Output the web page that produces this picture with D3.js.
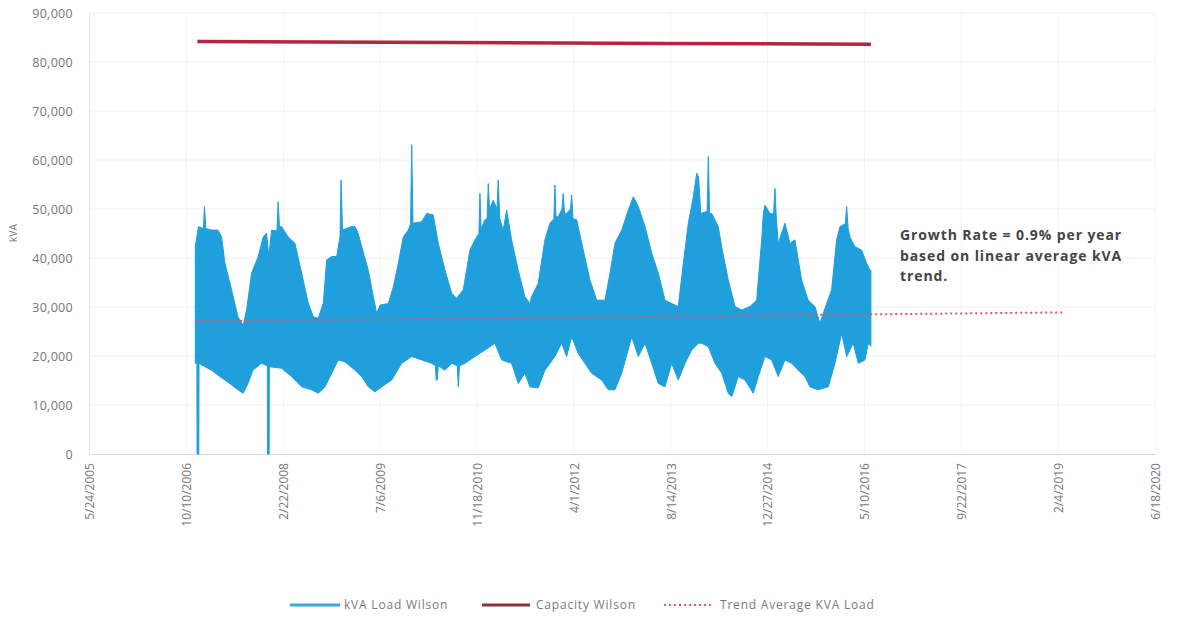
<!DOCTYPE html>
<html>
<head>
<meta charset="utf-8">
<script src="https://cdn.jsdelivr.net/npm/d3@7"></script>
<style>
    body { margin: 0; background: #fff; }
    .tick text { font-family: "Open Sans", sans-serif; fill: #767676; }
</style>
</head>
<body>
<div id="chart"></div>
<script>
// x ticks, as printed on the scanned chart
var tickDates = ['2005-05-24', '2006-10-10', '2008-02-22', '2009-07-06', '2010-11-18', '2012-04-01',
    '2013-08-14', '2014-12-27', '2016-05-10', '2017-09-22', '2019-02-04', '2020-06-18'];
var tickLabels = ['5/24/2005', '10/10/2006', '2/22/2008', '7/6/2009', '11/18/2010', '4/1/2012',
    '8/14/2013', '12/27/2014', '5/10/2016', '9/22/2017', '2/4/2019', '6/18/2020'];
var yTicks = [0, 10000, 20000, 30000, 40000, 50000, 60000, 70000, 80000, 90000];

// kVA load, upper edge of the band (decimal year, kVA)
var loadTopYears = [2006.895, 2006.940, 2007.010, 2007.025, 2007.045, 2007.126, 2007.215, 2007.268, 2007.314, 2007.409,
    2007.498, 2007.573, 2007.621, 2007.692, 2007.785, 2007.856, 2007.904, 2007.935, 2007.975, 2008.050,
    2008.068, 2008.085, 2008.116, 2008.209, 2008.304, 2008.399, 2008.492, 2008.563, 2008.633, 2008.704,
    2008.752, 2008.823, 2008.893, 2008.940, 2008.955, 2008.975, 2009.096, 2009.152, 2009.195, 2009.247,
    2009.340, 2009.411, 2009.459, 2009.506, 2009.623, 2009.694, 2009.764, 2009.835, 2009.906, 2009.938,
    2009.954, 2009.972, 2010.095, 2010.166, 2010.259, 2010.330, 2010.425, 2010.519, 2010.590, 2010.683,
    2010.778, 2010.849, 2010.905, 2010.919, 2010.935, 2010.990, 2011.020, 2011.037, 2011.055, 2011.107,
    2011.160, 2011.178, 2011.200, 2011.249, 2011.297, 2011.367, 2011.461, 2011.556, 2011.626, 2011.650,
    2011.743, 2011.838, 2011.909, 2011.965, 2011.980, 2011.995, 2012.026, 2012.080, 2012.097, 2012.115,
    2012.145, 2012.200, 2012.216, 2012.235, 2012.286, 2012.380, 2012.474, 2012.569, 2012.686, 2012.757,
    2012.827, 2012.922, 2013.016, 2013.086, 2013.157, 2013.252, 2013.346, 2013.440, 2013.534, 2013.629,
    2013.722, 2013.793, 2013.864, 2013.935, 2013.983, 2014.010, 2014.040, 2014.130, 2014.147, 2014.165,
    2014.195, 2014.288, 2014.336, 2014.429, 2014.524, 2014.619, 2014.736, 2014.831, 2014.902, 2014.925,
    2014.948, 2015.019, 2015.070, 2015.090, 2015.110, 2015.136, 2015.231, 2015.302, 2015.372, 2015.467,
    2015.560, 2015.655, 2015.726, 2015.821, 2015.891, 2015.962, 2016.009, 2016.085, 2016.104, 2016.125,
    2016.150, 2016.220, 2016.315, 2016.386, 2016.432, 2016.446];
var loadTopKva = [42300, 46400, 46000, 50500, 46000, 45700, 45700, 44300, 39000, 33500,
    28000, 26300, 29400, 36900, 40300, 44300, 45100, 40300, 45700, 45500,
    51500, 46400, 46400, 44300, 43000, 36900, 30800, 28000, 27700, 30800,
    39600, 40300, 40300, 44300, 55900, 45700, 46400, 46400, 45100, 42300,
    37500, 32100, 28700, 30400, 30700, 34100, 38900, 44300, 45700, 47000,
    63100, 47100, 47400, 49100, 48800, 43000, 37500, 32800, 31800, 33500,
    41600, 43700, 45000, 53200, 46000, 47800, 48000, 55200, 50000, 51800,
    50000, 55900, 48000, 45700, 49800, 43700, 37500, 32100, 30700, 32100,
    34800, 43700, 47100, 48000, 54900, 48400, 48400, 50000, 53200, 49000,
    49100, 50000, 52900, 48000, 47800, 41600, 35500, 31400, 31400, 36900,
    43000, 45700, 49800, 52500, 50500, 46400, 41000, 36900, 31400, 30700,
    30100, 38900, 47100, 52500, 57300, 56500, 49100, 49500, 60700, 49100,
    49100, 46400, 42300, 35500, 30100, 29400, 30100, 31400, 43700, 49000,
    50800, 49100, 49000, 54200, 48000, 43000, 47100, 43000, 43700, 35500,
    31400, 30100, 26700, 30700, 33500, 43700, 46400, 47000, 50500, 46000,
    44300, 42300, 41600, 38900, 37500, 37500];

// kVA load, lower edge of the band (decimal year, kVA)
var loadLowYears = [2006.895, 2006.918, 2006.920, 2006.945, 2006.948, 2007.032, 2007.126, 2007.215, 2007.314, 2007.409,
    2007.498, 2007.573, 2007.640, 2007.710, 2007.830, 2007.915, 2007.917, 2007.940, 2007.943, 2008.116,
    2008.257, 2008.399, 2008.540, 2008.633, 2008.728, 2008.823, 2008.916, 2009.011, 2009.152, 2009.247,
    2009.340, 2009.435, 2009.530, 2009.671, 2009.812, 2009.954, 2010.095, 2010.236, 2010.290, 2010.300,
    2010.315, 2010.330, 2010.425, 2010.519, 2010.600, 2010.613, 2010.630, 2010.707, 2010.849, 2010.990,
    2011.131, 2011.226, 2011.367, 2011.461, 2011.556, 2011.626, 2011.743, 2011.838, 2011.980, 2012.074,
    2012.145, 2012.216, 2012.309, 2012.403, 2012.498, 2012.639, 2012.733, 2012.827, 2012.922, 2013.064,
    2013.157, 2013.252, 2013.346, 2013.440, 2013.534, 2013.629, 2013.722, 2013.817, 2013.912, 2014.006,
    2014.054, 2014.147, 2014.242, 2014.336, 2014.429, 2014.478, 2014.571, 2014.666, 2014.783, 2014.854,
    2014.948, 2015.043, 2015.136, 2015.231, 2015.326, 2015.419, 2015.514, 2015.584, 2015.702, 2015.844,
    2015.938, 2016.033, 2016.104, 2016.196, 2016.268, 2016.362, 2016.409, 2016.446];
var loadLowKva = [18500, 18500, 0, 0, 18500, 17800, 17100, 16100, 15100, 14100,
    13100, 12400, 14400, 17100, 18500, 18000, 0, 0, 17800, 17500,
    15800, 13700, 13100, 12400, 13700, 16500, 19200, 18800, 17100, 15800,
    13700, 12700, 13700, 15100, 18500, 19900, 19200, 18500, 18000, 15100,
    15100, 18000, 17100, 18500, 18000, 13700, 18000, 18500, 19900, 21200,
    22600, 19200, 18500, 14400, 16500, 13700, 13500, 17100, 19900, 22600,
    19900, 23900, 20500, 18500, 16500, 15100, 13100, 13100, 16500, 23900,
    19900, 22600, 18500, 14400, 13700, 18500, 15100, 18500, 21200, 22600,
    22600, 21900, 18500, 16500, 12400, 11700, 15800, 15100, 12400, 15800,
    19900, 19200, 15800, 19200, 18500, 17100, 15800, 13700, 13100, 13700,
    18500, 24600, 19900, 22600, 18500, 19200, 22600, 22000];

// capacity
var capYears = [2006.925, 2010.5, 2013.5, 2016.446];
var capKva = [84200, 84000, 83800, 83600];

// linear trend of average load
var trendYears = [2006.895, 2019.180];
var trendKva = [27100, 28900];

var noteLines = ['Growth Rate = 0.9% per year', 'based on linear average kVA', 'trend.'];

var legendNames = ['kVA Load Wilson', 'Capacity Wilson', 'Trend Average KVA Load'];


function yearToDate(y) {
    var yr = Math.floor(y);
    var s = Date.UTC(yr, 0, 1), e = Date.UTC(yr + 1, 0, 1);
    return new Date(s + (y - yr) * (e - s));
}

function pairs(years, vals) {
    var out = [];
    for (var i = 0; i < years.length; i ++) {
        out.push({d: yearToDate(years[i]), v: vals[i]});
    }
    return out;
}

var W = 1177, H = 617;
var parse = d3.utcParse('%Y-%m-%d');
var tickD = tickDates.map(parse);

var x = d3.scaleUtc()
    .domain([tickD[0], tickD[tickD.length - 1]])
    .range([89, 1155]);

var y = d3.scaleLinear()
    .domain([0, 90000])
    .range([454, 13]);

var svg = d3.select('#chart')
    .append('svg')
    .attr('width', W)
    .attr('height', H);

// faint gridlines
svg.append('g').selectAll('line.hg')
    .data(yTicks.slice(1))
    .enter().append('line')
    .attr('x1', 89).attr('x2', 1155)
    .attr('y1', function (d) { return y(d); })
    .attr('y2', function (d) { return y(d); })
    .attr('stroke', '#f1f1f1');

svg.append('g').selectAll('line.vg')
    .data(tickD.slice(1))
    .enter().append('line')
    .attr('x1', function (d) { return x(d); })
    .attr('x2', function (d) { return x(d); })
    .attr('y1', 13).attr('y2', 454)
    .attr('stroke', '#f3f3f3');

// y axis
var yAxis = d3.axisLeft(y)
    .tickValues(yTicks)
    .tickSize(0)
    .tickPadding(16)
    .tickFormat(d3.format(','));

var gy = svg.append('g')
    .attr('transform', 'translate(89,0)')
    .call(yAxis);
gy.select('.domain').attr('stroke', '#e2e2e2');
gy.selectAll('text')
    .attr('font-size', 12.5)
    .attr('letter-spacing', 0.3);

// x axis
var xAxis = d3.axisBottom(x)
    .tickValues(tickD)
    .tickSize(0)
    .tickFormat(function (d, i) { return tickLabels[i]; });

var gx = svg.append('g')
    .attr('transform', 'translate(0,454)')
    .call(xAxis);
gx.select('.domain').attr('stroke', '#d9d9d9');
gx.selectAll('text')
    .attr('font-size', 12)
    .attr('text-anchor', 'end')
    .attr('transform', 'rotate(-90)')
    .attr('x', -9)
    .attr('y', 0)
    .attr('dy', '0.35em');

// axis title
svg.append('text')
    .attr('transform', 'translate(17,233) rotate(-90)')
    .attr('text-anchor', 'middle')
    .attr('font-family', 'Open Sans, sans-serif')
    .attr('font-size', 10.5)
    .attr('fill', '#767676')
    .text('kVA');

// load band: upper edge forward, lower edge back
var topPts = pairs(loadTopYears, loadTopKva);
var lowPts = pairs(loadLowYears, loadLowKva).reverse();
var line = d3.line()
    .x(function (d) { return x(d.d); })
    .y(function (d) { return y(d.v); });

svg.append('path')
    .attr('d', line(topPts.concat(lowPts)) + 'Z')
    .attr('fill', '#1f9fdb')
    .attr('stroke', '#1f9fdb')
    .attr('stroke-width', 1);

// capacity
svg.append('path')
    .datum(pairs(capYears, capKva))
    .attr('d', line)
    .attr('fill', 'none')
    .attr('stroke', '#b3263d')
    .attr('stroke-width', 3.5);

// trend
svg.append('path')
    .datum(pairs(trendYears, trendKva))
    .attr('d', line)
    .attr('fill', 'none')
    .attr('stroke', '#e2566d')
    .attr('stroke-width', 2)
    .attr('stroke-dasharray', '2,3');

// note
svg.append('text')
    .attr('font-family', 'Open Sans, sans-serif')
    .attr('font-size', 14)
    .attr('font-weight', 'bold')
    .attr('letter-spacing', 0.9)
    .attr('fill', '#444')
    .selectAll('tspan')
    .data(noteLines)
    .enter().append('tspan')
    .attr('x', 900)
    .attr('y', function (d, i) { return 240 + i * 20.5; })
    .text(function (d) { return d; });

// legend
var legX = [290, 482, 664];
var leg = svg.append('g').attr('transform', 'translate(0,605)');
var legItems = leg.selectAll('g')
    .data(legendNames)
    .enter().append('g')
    .attr('transform', function (d, i) { return 'translate(' + legX[i] + ',0)'; });

legItems.append('line')
    .attr('x1', 0).attr('x2', function (d, i) { return i == 1 ? 48 : 50; })
    .attr('stroke', function (d, i) { return ['#3aa9de', '#86353f', '#e2566d'][i]; })
    .attr('stroke-width', function (d, i) { return i == 2 ? 2 : 3; })
    .attr('stroke-dasharray', function (d, i) { return i == 2 ? '2,3' : null; });

legItems.append('text')
    .attr('x', function (d, i) { return i == 2 ? 56 : 54; })
    .attr('dy', '0.35em')
    .attr('font-family', 'Open Sans, sans-serif')
    .attr('font-size', 12)
    .attr('letter-spacing', 0.8)
    .attr('fill', '#7a7a7a')
    .text(function (d) { return d; });
</script>
</body>
</html>
